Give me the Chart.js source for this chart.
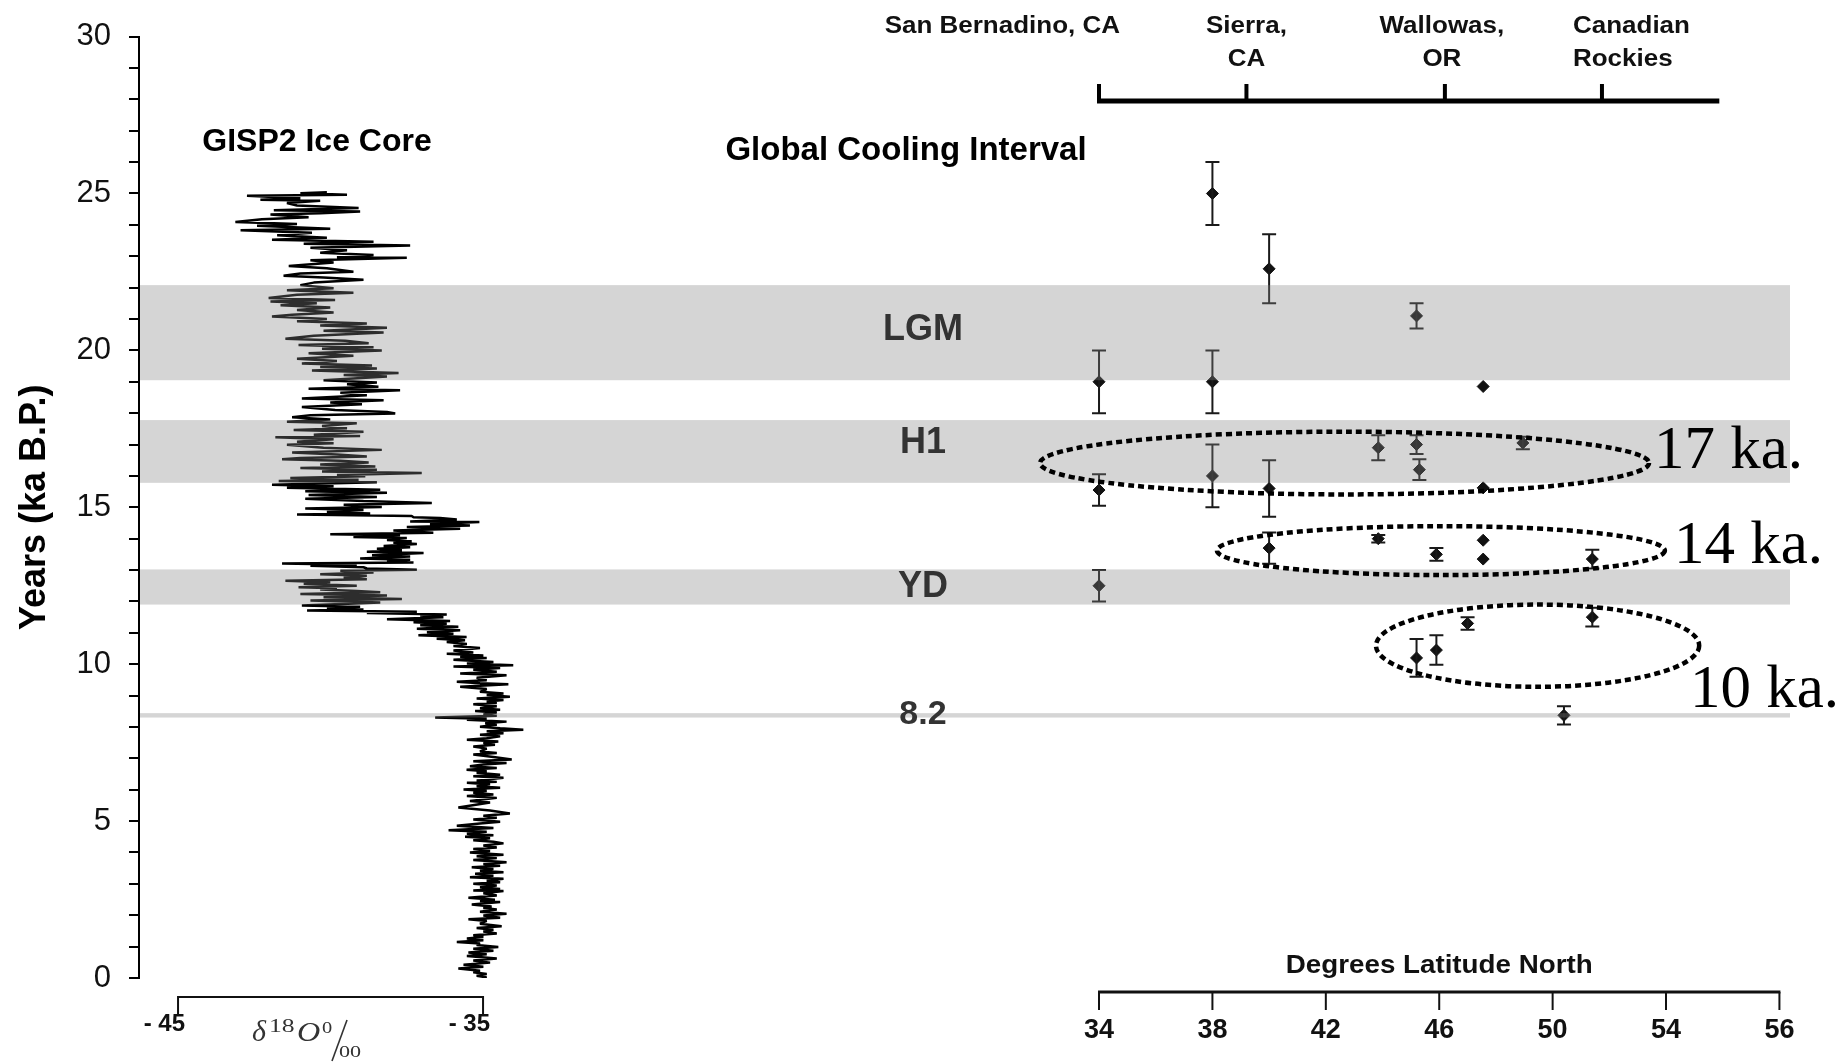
<!DOCTYPE html>
<html>
<head>
<meta charset="utf-8">
<title>GISP2 Ice Core and Global Cooling Interval</title>
<script src="https://cdn.jsdelivr.net/npm/chart.js@4.4.1/dist/chart.umd.min.js"></script>
<style>
  html, body { margin: 0; padding: 0; background: #fff; }
  #chart { display: block; }
</style>
</head>
<body>
<canvas id="chart" width="1839" height="1062"></canvas>
<script>
// GISP2 record: [age (ka B.P.), d18O (per mil)]
const gispRecord = [
  [25.04,-40.12],[25.01,-40.99],[24.96,-39.46],[24.93,-42.74],[24.85,-40.99],[24.80,-42.30],[24.77,-40.34],[24.70,-41.43],[24.62,-41.10],[24.54,-39.08],
  [24.47,-41.86],[24.43,-39.03],[24.37,-40.34],[24.33,-41.97],[24.24,-40.72],[24.18,-42.25],[24.09,-43.12],[24.03,-41.10],[23.97,-42.41],[23.88,-40.01],
  [23.83,-42.95],[23.75,-40.61],[23.67,-41.75],[23.59,-40.12],[23.53,-41.92],[23.46,-38.59],[23.40,-40.88],[23.34,-37.39],[23.27,-40.66],[23.19,-39.46],
  [23.11,-40.34],[23.04,-38.59],[22.97,-39.79],[22.95,-37.50],[22.87,-40.66],[22.80,-39.90],[22.69,-41.37],[22.62,-40.12],[22.51,-39.25],[22.45,-40.99],
  [22.38,-41.54],[22.32,-40.23],[22.25,-38.92],[22.16,-40.55],[22.08,-40.99],[21.98,-39.90],[21.92,-41.43],[21.84,-39.25],[21.77,-41.10],[21.67,-42.03],
  [21.61,-39.85],[21.56,-41.97],[21.50,-40.45],[21.44,-41.64],[21.37,-40.01],[21.29,-41.10],[21.21,-39.90],[21.14,-41.26],[21.08,-41.92],[21.00,-40.12],
  [20.93,-41.10],[20.86,-38.81],[20.79,-40.34],[20.72,-38.15],[20.63,-40.23],[20.57,-38.26],[20.47,-40.55],[20.37,-41.48],[20.31,-39.52],
  [20.23,-38.75],[20.17,-41.05],[20.10,-38.59],[20.05,-40.28],[20.00,-38.32],[19.91,-40.72],[19.83,-39.25],[19.73,-41.10],[19.66,-39.79],[19.58,-40.94],
  [19.52,-38.64],[19.47,-40.34],[19.42,-38.48],[19.36,-40.61],[19.28,-37.77],[19.22,-39.57],[19.17,-38.15],[19.05,-40.23],[18.98,-38.48],[18.92,-39.46],
  [18.84,-38.43],[18.78,-40.72],[18.73,-37.72],[18.65,-39.68],[18.57,-38.81],[18.47,-40.94],[18.41,-38.26],[18.34,-40.01],[18.28,-38.97],[18.20,-40.94],
  [18.10,-39.85],[18.04,-38.15],[17.99,-37.88],[17.93,-40.66],[17.87,-41.26],[17.80,-40.01],[17.73,-41.43],[17.68,-39.14],[17.59,-40.28],[17.52,-39.46],
  [17.46,-41.21],[17.41,-38.92],[17.31,-40.55],[17.27,-39.03],[17.23,-41.81],[17.17,-39.90],[17.09,-41.10],[17.04,-39.90],[16.99,-41.43],[16.90,-40.23],
  [16.83,-38.32],[16.75,-41.26],[16.68,-39.79],[16.62,-38.81],[16.57,-40.99],[16.53,-41.59],[16.48,-39.68],[16.43,-38.75],[16.36,-40.34],[16.30,-38.53],
  [16.25,-40.99],[16.20,-38.48],[16.14,-40.28],[16.09,-37.01],[16.03,-39.79],[15.99,-38.86],[15.93,-41.32],[15.88,-39.08],[15.84,-41.70],[15.80,-38.48],
  [15.72,-41.92],[15.67,-39.90],[15.62,-41.43],[15.56,-38.37],[15.51,-40.83],
  [15.46,-38.15],[15.39,-40.72],[15.33,-38.48],[15.27,-40.83],[15.20,-38.92],[15.14,-36.68],[15.08,-39.57],[15.01,-38.32],[14.96,-40.83],[14.91,-38.92],
  [14.85,-40.12],[14.80,-38.70],[14.77,-41.10],[14.72,-37.34],[14.68,-37.28],[14.66,-36.41],[14.61,-35.86],[14.55,-37.39],[14.53,-35.12],[14.47,-36.74],
  [14.42,-35.43],[14.37,-37.50],[14.32,-35.75],[14.26,-37.94],[14.19,-36.63],[14.14,-40.01],[14.11,-37.72],[14.05,-39.25],[14.02,-37.50],[13.96,-38.15],
  [13.92,-37.34],[13.87,-37.94],[13.83,-37.17],[13.77,-38.26],[13.73,-37.39],[13.68,-38.48],[13.63,-37.66],[13.58,-38.81],[13.54,-36.95],[13.47,-38.64],
  [13.43,-37.39],[13.37,-39.03],[13.33,-37.39],[13.28,-38.15],[13.24,-37.28],[13.21,-41.59],[13.17,-39.14],[13.14,-40.66],[13.09,-38.92],[13.05,-38.81],
  [13.01,-37.17],[12.98,-39.68],[12.92,-38.59],[12.87,-40.34],[12.82,-38.81],[12.77,-39.57],[12.71,-38.81],[12.66,-41.48],[12.61,-40.01],[12.56,-40.88],
  [12.50,-39.14],[12.45,-41.05],[12.42,-39.79],[12.38,-40.34],[12.33,-39.14],[12.29,-38.37],[12.24,-40.99],[12.19,-38.15],[12.13,-40.23],[12.08,-37.66],
  [12.03,-40.66],[11.97,-38.37],[11.87,-40.94],[11.83,-39.03],[11.78,-40.12],[11.74,-38.92],[11.71,-40.77],[11.67,-37.17],[11.63,-38.81],[11.58,-36.19],
  [11.55,-37.06],[11.50,-36.30],[11.43,-38.15],[11.38,-36.08],[11.34,-37.28],[11.29,-36.19],[11.24,-37.06],[11.19,-35.81],[11.13,-37.17],[11.08,-35.75],
  [11.02,-36.84],[10.97,-35.97],[10.92,-37.12],[10.87,-35.54],[10.81,-36.52],[10.76,-35.59],
  [10.71,-36.19],[10.64,-35.53],[10.58,-35.97],[10.52,-35.10],[10.44,-35.97],[10.37,-35.32],[10.33,-36.19],[10.28,-34.99],[10.24,-35.75],[10.20,-34.88],
  [10.14,-35.97],[10.07,-34.66],[10.02,-35.53],[9.97,-34.01],[9.93,-35.97],[9.88,-34.44],[9.82,-35.32],[9.76,-34.55],[9.70,-35.75],[9.65,-34.23],
  [9.57,-35.21],[9.49,-34.88],[9.44,-35.86],[9.39,-35.10],[9.36,-34.17],[9.31,-35.10],[9.28,-35.75],[9.21,-34.88],[9.12,-35.10],[9.07,-34.33],
  [9.02,-34.88],[8.96,-34.12],[8.91,-35.21],[8.86,-34.33],[8.81,-34.88],[8.76,-34.55],[8.72,-35.32],[8.66,-34.55],[8.60,-35.10],[8.55,-34.44],
  [8.51,-35.26],[8.46,-34.55],[8.40,-34.99],[8.36,-34.55],[8.30,-36.57],[8.26,-34.88],[8.23,-35.53],[8.17,-34.23],[8.12,-34.93],[8.07,-34.55],
  [8.01,-35.10],[7.96,-34.44],[7.91,-33.68],[7.86,-34.88],[7.80,-34.33],[7.75,-35.10],[7.70,-34.44],[7.64,-34.88],[7.59,-35.53],[7.54,-34.50],
  [7.49,-34.99],[7.43,-34.61],[7.38,-35.32],[7.31,-34.88],[7.22,-35.10],[7.17,-34.55],[7.12,-35.32],[7.04,-34.66],[6.96,-34.06],[6.91,-35.32],
  [6.85,-34.23],[6.80,-34.99],[6.75,-35.43],[6.69,-34.55],[6.64,-35.54],[6.59,-34.88],[6.54,-35.21],[6.48,-34.44],[6.43,-35.32],[6.38,-34.33],
  [6.29,-35.21],[6.25,-34.55],[6.22,-35.53],[6.17,-34.77],[6.11,-35.21],[6.06,-34.44],[6.01,-35.64],[5.96,-34.88],[5.90,-35.32],[5.85,-34.66],
  [5.80,-35.53],[5.74,-34.55],[5.64,-35.43],[5.59,-34.77],
  [5.43,-35.81],[5.34,-34.77],[5.24,-34.12],[5.17,-34.99],[5.11,-34.55],[5.05,-35.32],[4.98,-34.44],[4.92,-35.10],[4.85,-35.86],[4.78,-34.66],
  [4.71,-36.13],[4.66,-34.88],[4.60,-35.53],[4.55,-34.66],[4.50,-35.59],[4.45,-34.77],[4.39,-35.32],[4.34,-34.66],[4.29,-34.33],[4.22,-34.99],
  [4.16,-34.55],[4.11,-35.32],[4.05,-34.77],[4.00,-35.43],[3.93,-34.33],[3.88,-35.21],[3.82,-34.55],[3.76,-35.32],[3.69,-34.23],[3.63,-34.99],
  [3.58,-34.44],[3.53,-35.37],[3.47,-34.66],[3.42,-35.10],[3.37,-34.33],[3.32,-35.26],[3.26,-34.66],[3.21,-35.43],[3.16,-34.33],[3.10,-34.88],
  [3.05,-34.44],[3.00,-35.32],[2.95,-34.55],[2.89,-35.10],[2.84,-34.44],[2.79,-35.32],[2.77,-34.33],[2.70,-34.99],[2.63,-34.55],[2.56,-35.48],
  [2.49,-34.61],[2.45,-35.10],[2.42,-34.44],[2.34,-35.37],[2.28,-34.72],[2.23,-34.99],[2.18,-34.55],[2.11,-35.10],[2.05,-34.23],[1.99,-34.99],
  [1.92,-34.44],[1.87,-35.48],[1.82,-34.88],[1.73,-35.10],[1.65,-34.39],[1.59,-35.21],[1.54,-34.66],[1.48,-34.99],[1.42,-34.55],[1.36,-35.32],
  [1.31,-34.99],[1.26,-35.53],[1.20,-34.99],[1.15,-35.86],[1.10,-35.10],[1.05,-35.21],[0.99,-34.50],[0.93,-35.32],[0.87,-34.66],[0.81,-35.48],
  [0.76,-34.88],[0.70,-35.53],[0.62,-34.55],[0.56,-35.32],[0.49,-34.77],[0.42,-35.64],[0.36,-34.99],[0.30,-35.81],[0.23,-35.10],[0.18,-35.32],
  [0.13,-34.88],[0.07,-35.21],[0.02,-34.88],[0.00,-34.99]
];

// dated glacial deposits (right panel): latitude, age and +/- age error, ka
const siteLat = [38, 40, 45.2, 34, 38, 47.55, 34, 38, 40, 43.85, 45.2, 45.3, 48.95, 47.55, 40, 43.85, 45.9, 47.55, 47.55, 51.4, 34, 51.4, 47.0, 45.2, 45.9, 50.4];
const siteAge = [25.0, 22.6, 21.1, 19.0, 19.0, 18.85, 15.55, 16.0, 15.6, 16.9, 17.0, 16.2, 17.05, 15.62, 13.7, 14.0, 13.5, 13.95, 13.35, 13.35, 12.5, 11.5, 11.3, 10.2, 10.45, 8.37];
const siteErr = [1.0, 1.1, 0.4, 1.0, 1.0, 0, 0.5, 1.0, 0.9, 0.4, 0.3, 0.33, 0.2, 0, 0.5, 0.12, 0.2, 0, 0, 0.3, 0.5, 0.3, 0.2, 0.6, 0.47, 0.29];

// cooling intervals (ka B.P.)
const bandName = ['LGM', 'H1', 'YD', '8.2'];
const bandFrom = [19.05, 15.78, 11.9, 8.3];
const bandTo = [22.08, 17.78, 13.02, 8.44];

// dotted clusters: centre latitude / age and half-width / half-height
const clusterName = ['17 ka.', '14 ka.', '10 ka.'];
const clusterLat = [42.66, 46.06, 49.47];
const clusterAge = [16.41, 13.62, 10.59];
const clusterLatHalf = [10.74, 7.9, 5.7];
const clusterAgeHalf = [1.0, 0.78, 1.31];

// axes
const latTicks = [34, 38, 42, 46, 50, 54, 58];
const latTickLabels = ['34', '38', '42', '46', '50', '54', '56'];
const d18OTicks = [-45, -35];
const d18OTickLabels = ['- 45', '- 35'];
const siteNames = [['San Bernadino, CA'], ['Sierra,', 'CA'], ['Wallowas,', 'OR'], ['Canadian', 'Rockies']];
const siteTickLat = [34, 39.2, 46.2, 51.74];
const siteAxisEnd = 55.88;

const SANS = '"Liberation Sans", Arial, sans-serif';
const SERIF = '"Liberation Serif", "Times New Roman", serif';
Chart.defaults.font.family = SANS;

function drawText(ctx, str, x, y, font, opts) {
    opts = opts || {};
    ctx.save();
    ctx.font = font;
    ctx.fillStyle = opts.color || '#000';
    ctx.textAlign = opts.align || 'center';
    ctx.textBaseline = 'alphabetic';
    ctx.translate(x, y);
    ctx.scale(opts.sx || 1, 1);
    ctx.fillText(str, 0, 0);
    ctx.restore();
}

const figurePlugin = {
    id: 'figure',
    afterDatasetsDraw(chart) {
        const ctx = chart.ctx;
        const area = chart.chartArea;
        const ys = chart.scales.y;
        const xl = chart.scales.xl;

        // error bars
        ctx.save();
        ctx.strokeStyle = '#1a1a1a';
        ctx.lineWidth = 2;
        siteLat.forEach((lat, i) => {
            if (!siteErr[i]) return;
            const px = xl.getPixelForValue(lat);
            const top = ys.getPixelForValue(siteAge[i] + siteErr[i]);
            const bot = ys.getPixelForValue(siteAge[i] - siteErr[i]);
            ctx.beginPath();
            ctx.moveTo(px, top); ctx.lineTo(px, bot);
            ctx.moveTo(px - 7, top); ctx.lineTo(px + 7, top);
            ctx.moveTo(px - 7, bot); ctx.lineTo(px + 7, bot);
            ctx.stroke();
        });
        ctx.restore();

        // grey intervals laid over curve and points
        ctx.save();
        ctx.fillStyle = 'rgba(132, 132, 132, 0.34)';
        bandName.forEach((name, i) => {
            const top = ys.getPixelForValue(bandTo[i]);
            const bot = ys.getPixelForValue(bandFrom[i]);
            ctx.fillRect(area.left + 1, top, area.right - area.left - 1, bot - top);
        });
        ctx.restore();

        // dotted clusters
        ctx.save();
        ctx.strokeStyle = '#000';
        ctx.lineWidth = 4.5;
        ctx.setLineDash([6, 4]);
        clusterName.forEach((name, i) => {
            const cx = xl.getPixelForValue(clusterLat[i]);
            const cy = ys.getPixelForValue(clusterAge[i]);
            const rx = xl.getPixelForValue(clusterLat[i] + clusterLatHalf[i]) - cx;
            const ry = cy - ys.getPixelForValue(clusterAge[i] + clusterAgeHalf[i]);
            ctx.beginPath();
            ctx.ellipse(cx, cy, rx, ry, 0, 0, Math.PI * 2);
            ctx.stroke();
        });
        ctx.restore();
    },
    afterDraw(chart) {
        const ctx = chart.ctx;
        const xl = chart.scales.xl;
        const xo = chart.scales.xo;

        // cluster labels
        const clusterText = [[1654, 468], [1674, 563], [1690, 707]];
        clusterName.forEach((name, i) => {
            drawText(ctx, name, clusterText[i][0], clusterText[i][1], '61px ' + SERIF, { align: 'left' });
        });

        // titles
        drawText(ctx, 'GISP2 Ice Core', 317, 151, 'bold 32px ' + SANS);
        drawText(ctx, 'Global Cooling Interval', 906, 160, 'bold 33px ' + SANS);

        // interval names
        const bandTextY = [339.6, 453, 597.4, 724];
        bandName.forEach((name, i) => {
            drawText(ctx, name, 923, bandTextY[i], 'bold ' + (i === 3 ? 34 : 36) + 'px ' + SANS, { color: '#333' });
        });

        ctx.save();
        ctx.strokeStyle = '#111';
        ctx.lineCap = 'butt';

        // d18O bracket axis
        const x45 = xo.getPixelForValue(d18OTicks[0]);
        const x35 = xo.getPixelForValue(d18OTicks[1]);
        ctx.lineWidth = 2;
        ctx.beginPath();
        ctx.moveTo(x45, 1015); ctx.lineTo(x45, 997); ctx.lineTo(x35, 997); ctx.lineTo(x35, 1015);
        ctx.stroke();
        d18OTicks.forEach((v, i) => {
            drawText(ctx, d18OTickLabels[i], xo.getPixelForValue(v) + 7, 1031, 'bold 24px ' + SANS, { align: 'right', color: '#111' });
        });

        // latitude axis
        const lat0 = xl.getPixelForValue(latTicks[0]);
        const latN = xl.getPixelForValue(latTicks[latTicks.length - 1]);
        ctx.lineWidth = 3;
        ctx.beginPath();
        ctx.moveTo(lat0 - 1, 992); ctx.lineTo(latN + 1, 992);
        ctx.stroke();
        ctx.lineWidth = 2;
        latTicks.forEach((v, i) => {
            const px = xl.getPixelForValue(v);
            ctx.beginPath();
            ctx.moveTo(px, 992); ctx.lineTo(px, 1010);
            ctx.stroke();
            drawText(ctx, latTickLabels[i], px, 1038, 'bold 27px ' + SANS, { color: '#111' });
        });
        drawText(ctx, 'Degrees Latitude North', (lat0 + latN) / 2, 973, 'bold 25px ' + SANS, { sx: 1.11, color: '#111' });

        // site axis across the top
        const s0 = xl.getPixelForValue(siteTickLat[0]);
        const sN = xl.getPixelForValue(siteAxisEnd);
        ctx.strokeStyle = '#000';
        ctx.lineWidth = 5;
        ctx.beginPath();
        ctx.moveTo(s0 - 2, 101); ctx.lineTo(sN, 101);
        ctx.stroke();
        ctx.lineWidth = 4;
        siteTickLat.forEach((v) => {
            const px = xl.getPixelForValue(v);
            ctx.beginPath();
            ctx.moveTo(px, 103); ctx.lineTo(px, 84);
            ctx.stroke();
        });
        const siteAlign = ['right', 'center', 'center', 'left'];
        const siteShift = [21, 0, -3, -29];
        siteNames.forEach((lines, i) => {
            const px = xl.getPixelForValue(siteTickLat[i]) + siteShift[i];
            lines.forEach((line, j) => {
                drawText(ctx, line, px, 33 + j * 33, 'bold 23px ' + SANS, { align: siteAlign[i], sx: 1.13, color: '#111' });
            });
        });
        ctx.restore();

        // delta 18O per mil label
        ctx.save();
        const grey = '#333';
        drawText(ctx, '\u03b4', 252, 1041, 'italic 30px ' + SERIF, { align: 'left', color: grey });
        drawText(ctx, '18', 269, 1032, '19px ' + SERIF, { align: 'left', color: grey, sx: 1.35 });
        drawText(ctx, 'O', 297, 1041, 'italic 28px ' + SERIF, { align: 'left', color: grey, sx: 1.15 });
        drawText(ctx, '0', 322, 1033, '17px ' + SERIF, { align: 'left', color: grey, sx: 1.2 });
        drawText(ctx, '00', 339, 1057, '17px ' + SERIF, { align: 'left', color: grey, sx: 1.3 });
        ctx.strokeStyle = grey;
        ctx.lineWidth = 1.6;
        ctx.beginPath();
        ctx.moveTo(347, 1020); ctx.lineTo(332, 1061);
        ctx.stroke();
        ctx.restore();
    }
};

const chart = new Chart(document.getElementById('chart'), {
    type: 'scatter',
    data: {
        datasets: [
            {
                label: 'GISP2 d18O',
                data: gispRecord.map(p => ({ x: p[1], y: p[0] })),
                xAxisID: 'xo',
                yAxisID: 'y',
                showLine: true,
                borderColor: '#000',
                borderWidth: 2.5,
                borderJoinStyle: 'bevel',
                pointRadius: 0,
                tension: 0
            },
            {
                label: 'Dated moraines',
                data: siteLat.map((lat, i) => ({ x: lat, y: siteAge[i] })),
                xAxisID: 'xl',
                yAxisID: 'y',
                pointStyle: 'rectRot',
                pointRadius: 6,
                borderWidth: 1,
                backgroundColor: '#111',
                borderColor: '#111'
            }
        ]
    },
    options: {
        responsive: false,
        animation: false,
        events: [],
        devicePixelRatio: 1,
        layout: { padding: { left: 0, right: 49, top: 31, bottom: 84 } },
        plugins: {
            legend: { display: false },
            tooltip: { enabled: false }
        },
        scales: {
            y: {
                type: 'linear',
                position: 'left',
                min: 0,
                max: 30,
                afterFit(scale) { scale.width = 139; },
                ticks: {
                    stepSize: 1,
                    autoSkip: false,
                    padding: 18,
                    color: '#111',
                    font: { size: 31 },
                    callback: (v) => (v % 5 === 0 ? String(v) : '')
                },
                grid: { drawOnChartArea: false, drawTicks: true, tickLength: 10, color: '#000', lineWidth: 2 },
                border: { display: true, color: '#000', width: 2 },
                title: {
                    display: true,
                    text: 'Years (ka B.P.)',
                    color: '#000',
                    font: { size: 36, weight: 'bold' },
                    padding: { top: 13, bottom: 0 }
                }
            },
            xo: { type: 'linear', display: false, min: -46.28, max: 7.85 },
            xl: { type: 'linear', display: false, min: 0.137, max: 58.373 }
        }
    },
    plugins: [figurePlugin]
});
</script>
</body>
</html>
